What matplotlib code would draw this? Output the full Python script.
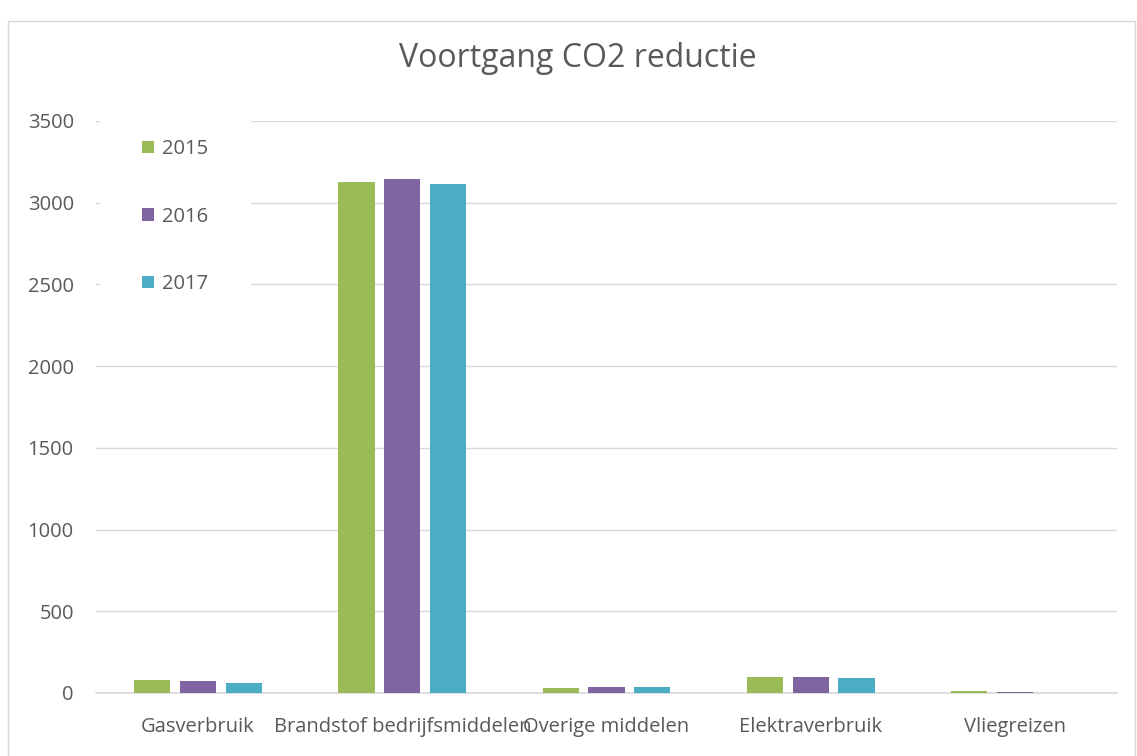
import numpy as np
import matplotlib.pyplot as plt
from matplotlib.patches import Rectangle

categories = ["Gasverbruik", "Brandstof bedrijfsmiddelen", "Overige middelen",
              "Elektraverbruik", "Vliegreizen"]
years = ["2015", "2016", "2017"]
v2015 = [81, 3126, 30, 100, 14]
v2016 = [71, 3145, 37, 100, 4]
v2017 = [63, 3114, 34, 93, 3]
colors = ["#9BBB59", "#8064A2", "#4BACC6"]

plt.rcParams["font.family"] = ["Open Sans", "DejaVu Sans"]
grey = "#595959"

fig = plt.figure(figsize=(11.37, 7.56), dpi=100)
ax = fig.add_axes([96 / 1137, 63 / 756, 1021 / 1137, 572 / 756])

# kader rond de grafiek
fig.patches.append(Rectangle((8 / 1137, -0.01), 1127 / 1137, (756 - 21) / 756 + 0.01,
                             transform=fig.transFigure, fill=False,
                             edgecolor="#d9d9d9", linewidth=1))

x = np.arange(len(categories))
w = 0.177
step = 0.224
series = [v2015, v2016, v2017]
for i, vals in enumerate(series):
    ax.bar(x + (i - 1) * step, vals, w, color=colors[i], label=years[i], zorder=3)

ax.set_xlim(-0.5, len(categories) - 0.5)
ax.set_ylim(0, 3500)
ax.set_yticks(np.arange(0, 3501, 500))
ax.set_xticks(x)
ax.set_xticklabels(categories)
ax.grid(axis="y", color="#d9d9d9", linewidth=1, zorder=0)
for s in ["top", "right", "left"]:
    ax.spines[s].set_visible(False)
ax.spines["bottom"].set_color("#d9d9d9")
ax.spines["bottom"].set_linewidth(1.2)
ax.tick_params(axis="both", length=0, labelsize=14.5, labelcolor=grey)
ax.tick_params(axis="x", pad=17)
ax.tick_params(axis="y", pad=16)

fig.text(0.508, 0.922, "Voortgang CO2 reductie", ha="center", va="center",
         fontsize=23, color=grey)

# legenda met witte achtergrond (dekt de rasterlijnen af)
bp = 2.1
pad_px = bp * 14.5 / 72 * 100
leg = ax.legend(loc="upper left",
                bbox_to_anchor=((142 - pad_px) / 1137, (756 - 139 + pad_px) / 756),
                bbox_transform=fig.transFigure, frameon=True, fancybox=False,
                facecolor="white", edgecolor="none", framealpha=1, fontsize=14.5,
                labelspacing=2.36, handlelength=0.6, handleheight=0.6,
                handletextpad=0.4, borderpad=bp, borderaxespad=0)
for t in leg.get_texts():
    t.set_color(grey)

fig.savefig("out.png", dpi=100)
